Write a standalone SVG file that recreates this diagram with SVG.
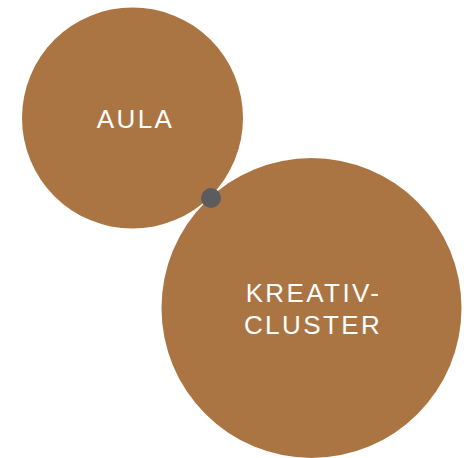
<svg xmlns="http://www.w3.org/2000/svg" width="466" height="458" viewBox="0 0 466 458">
<style>
.node{fill:#ab7543}
.lbl{font-family:"Liberation Sans",Arial,sans-serif;font-size:26px;fill:#ffffff;letter-spacing:2.4px;text-anchor:middle}
.joint{fill:#5a5c5e}
</style>
<rect width="466" height="458" fill="#ffffff"/>
<g id="aula">
<circle class="node" cx="132.5" cy="118" r="110.5"/>
<text class="lbl" x="135.5" y="128">AULA</text>
</g>
<g id="kreativcluster">
<circle class="node" cx="311.5" cy="308" r="150"/>
<text class="lbl" x="313.5" y="302">KREATIV-</text>
<text class="lbl" x="313" y="334">CLUSTER</text>
</g>
<g id="connectors">
<circle class="joint" cx="211" cy="198" r="10"/>
</g>
</svg>
